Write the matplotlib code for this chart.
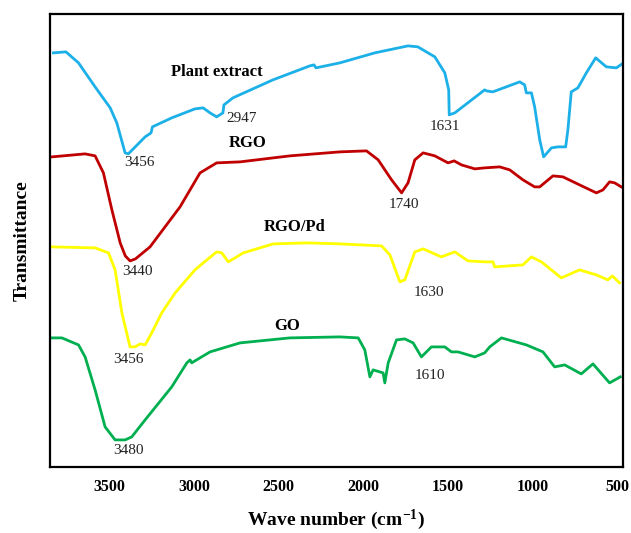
import matplotlib
matplotlib.use('Agg')
import matplotlib.pyplot as plt

plt.rcParams['font.family'] = ['Liberation Serif', 'DejaVu Serif']
plt.rcParams['mathtext.default'] = 'regular'

# FTIR spectra, wavenumber (cm-1) vs transmittance (a.u., curves offset)
plant_wn = [3829, 3755, 3681, 3583, 3494, 3455, 3406, 3387, 3288, 3253, 3245, 3131,
            2994, 2946, 2905, 2866, 2829, 2823, 2770, 2534, 2316, 2292, 2280, 2139,
            1933, 1737, 1679, 1579, 1520, 1497, 1494, 1461, 1285, 1275, 1237, 1078,
            1049, 1039, 1009, 990, 960, 937, 891, 853, 807, 794, 774, 735, 685, 630,
            567, 508, 465]
plant_t = [414, 415, 404, 380, 359, 344, 314, 313, 330, 334, 340, 349,
           358, 359, 354, 350, 354, 362, 369, 387, 401, 402, 399, 404,
           414, 421, 420, 410, 394, 377, 352, 354, 377, 376, 375, 385,
           382, 374, 374, 360, 327, 310, 319, 320, 320, 337, 375, 379, 394, 409,
           400, 399, 404]

rgo_wn = [3838, 3642, 3583, 3534, 3484, 3435, 3405, 3377, 3345, 3259, 3082, 2964,
          2866, 2728, 2434, 2139, 1982, 1913, 1834, 1775, 1737, 1697, 1648, 1579,
          1501, 1465, 1422, 1343, 1285, 1196, 1137, 1059, 990, 960, 882, 823, 725,
          626, 587, 548, 518, 479]
rgo_t = [310, 313, 311, 294, 257, 224, 211, 206, 208, 220, 260, 294,
         304, 305, 311, 315, 316, 307, 287, 274, 284, 307, 314, 311,
         304, 306, 302, 298, 299, 300, 297, 287, 280, 280, 291, 290, 282,
         274, 277, 285, 284, 280]

rgopd_wn = [3838, 3583, 3504, 3465, 3425, 3377, 3347, 3318, 3288, 3249, 3190, 3111,
            2994, 2945, 2866, 2836, 2797, 2709, 2532, 2335, 2139, 1893, 1844, 1785,
            1756, 1697, 1648, 1540, 1461, 1383, 1285, 1236, 1226, 1059, 1009, 950,
            833, 725, 626, 558, 532, 489]
rgopd_t = [220, 219, 214, 197, 154, 120, 120, 123, 122, 134, 154, 174,
           197, 204, 215, 214, 205, 214, 223, 224, 223, 221, 212, 185,
           187, 215, 218, 210, 215, 206, 205, 205, 200, 202, 210, 205,
           189, 197, 192, 187, 191, 184]

go_wn = [3838, 3779, 3681, 3642, 3583, 3524, 3465, 3406, 3367, 3288, 3131, 3042,
         3023, 3013, 3004, 2905, 2728, 2434, 2139, 2031, 1992, 1962, 1943, 1884,
         1874, 1854, 1805, 1756, 1707, 1658, 1599, 1520, 1481, 1442, 1343, 1285,
         1255, 1186, 1039, 941, 872, 813, 715, 646, 548, 485]
go_t = [129, 129, 122, 110, 77, 40, 27, 27, 30, 47, 80, 104,
        107, 104, 105, 115, 124, 129, 130, 129, 117, 90, 97, 94,
        84, 104, 127, 128, 124, 110, 120, 120, 115, 115, 110, 114,
        120, 129, 122, 115, 100, 102, 93, 103, 84, 90]

# sample names and peak annotations: (text, wavenumber, transmittance)
names = [('Plant extract', 2864, 395), ('RGO', 2681, 324),
         ('RGO/Pd', 2404, 240), ('GO', 2451, 141)]
peaks = [('2947', 2717, 348), ('3456', 3324, 304), ('1631', 1520, 340),
         ('3440', 3335, 195), ('1740', 1762, 262), ('3456', 3388, 107),
         ('1630', 1615, 174), ('3480', 3388, 16), ('1610', 1609, 91)]

fig = plt.figure(figsize=(6.31, 5.33), dpi=100)
ax = fig.add_axes([0.079, 0.124, 0.908, 0.850])

lw = 2.0
ax.plot(plant_wn, plant_t, color='#1CB0E8', lw=lw, solid_joinstyle='round')
ax.plot(rgo_wn, rgo_t, color='#C00000', lw=lw, solid_joinstyle='round')
ax.plot(rgopd_wn, rgopd_t, color='#FFFF00', lw=lw, solid_joinstyle='round')
ax.plot(go_wn, go_t, color='#00B050', lw=lw, solid_joinstyle='round')

for txt, x, y in names:
    ax.text(x, y, txt, ha='center', va='center', fontsize=12, fontweight='bold')
for txt, x, y in peaks:
    ax.text(x, y, txt, ha='center', va='center', fontsize=11, color='#222222')

ax.set_xlim(3850, 470)
ax.set_ylim(0, 453)
ax.set_xticks([3500, 3000, 2500, 2000, 1500, 1000, 500])
ax.set_yticks([])
ax.tick_params(axis='x', length=0, pad=9, labelsize=11.5)
for lab in ax.get_xticklabels():
    lab.set_fontweight('bold')
for sp in ax.spines.values():
    sp.set_linewidth(1.6)

ax.set_xlabel('Wave number (cm$^{-1}$)', fontsize=14, fontweight='bold', labelpad=9)
ax.set_ylabel('Transmittance', fontsize=14, fontweight='bold', labelpad=14)

fig.savefig('out.png', dpi=100)
